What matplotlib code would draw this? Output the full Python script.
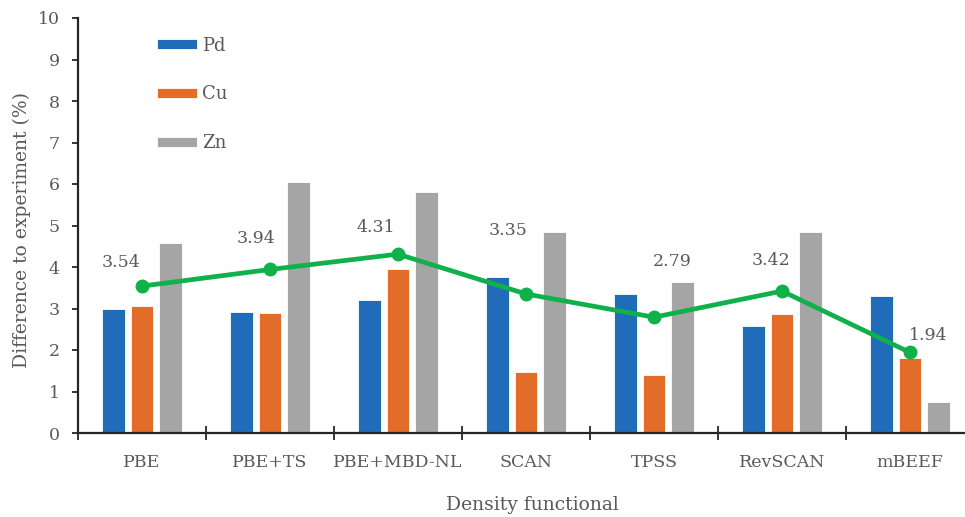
import matplotlib
matplotlib.use("Agg")
import matplotlib.pyplot as plt
import numpy as np

categories = ["PBE", "PBE+TS", "PBE+MBD-NL", "SCAN", "TPSS", "RevSCAN", "mBEEF"]
pd_vals = [3.00, 2.91, 3.20, 3.75, 3.34, 2.57, 3.30]
cu_vals = [3.07, 2.88, 3.96, 1.48, 1.40, 2.87, 1.81]
zn_vals = [4.59, 6.05, 5.81, 4.84, 3.63, 4.84, 0.74]
avg_vals = [3.54, 3.94, 4.31, 3.35, 2.79, 3.42, 1.94]
avg_labels = ["3.54", "3.94", "4.31", "3.35", "2.79", "3.42", "1.94"]
yticks = [0, 1, 2, 3, 4, 5, 6, 7, 8, 9, 10]

# label offsets in points (layout only)
label_offsets = [(-15, 17), (-10, 22), (-16, 19), (-13, 46), (13, 40), (-8, 22), (13, 12)]

plt.rcParams['font.family'] = ['DejaVu Serif']
text_color = "#595959"

fig = plt.figure(figsize=(9.65, 5.17), dpi=100)
ax = fig.add_axes([78/965, 1-433/517, 896/965, 415/517])

x = np.arange(len(categories))
w = 0.178
step = 0.22
c_pd, c_cu, c_zn, c_avg = "#1F6DB9", "#E36C28", "#A5A5A5", "#10B04B"
ax.bar(x - step, pd_vals, w, color=c_pd, label="Pd", edgecolor="white", linewidth=0.6)
ax.bar(x, cu_vals, w, color=c_cu, label="Cu", edgecolor="white", linewidth=0.6)
ax.bar(x + step, zn_vals, w, color=c_zn, label="Zn", edgecolor="white", linewidth=0.6)
ax.plot(x, avg_vals, color=c_avg, lw=3.4, marker="o", ms=9, zorder=5)

for xi, v, s, off in zip(x, avg_vals, avg_labels, label_offsets):
    ax.annotate(s, (xi, v), xytext=off, textcoords="offset points",
                ha="center", va="center", fontsize=12.5, color=text_color)

ax.set_xlim(-0.5, len(categories) - 0.5)
ax.set_ylim(0, 10)
ax.set_yticks(yticks)
ax.set_yticklabels([str(t) for t in yticks])

ax.set_xticks(np.arange(len(categories) + 1) - 0.5)
ax.set_xticklabels([])
ax.set_xticks(x, minor=True)
ax.set_xticklabels(categories, minor=True)
ax.tick_params(axis="x", which="major", direction="inout", length=10, width=1.3, color="#262626")
ax.tick_params(axis="x", which="minor", length=0, pad=15, labelsize=12.5, labelcolor=text_color)
ax.tick_params(axis="y", direction="out", length=4, width=1.3, color="#262626",
               pad=9, labelsize=12.5, labelcolor=text_color)

for s in ["top", "right"]:
    ax.spines[s].set_visible(False)
for s in ["left", "bottom"]:
    ax.spines[s].set_linewidth(1.6)
    ax.spines[s].set_color("#262626")

ax.set_ylabel("Difference to experiment (%)", fontsize=13.5, color=text_color)
ax.yaxis.set_label_coords(-0.052, 0.49)
ax.set_xlabel("Density functional", fontsize=13.5, color=text_color)
ax.xaxis.set_label_coords(0.507, -0.152)

leg = ax.legend(loc="upper left", bbox_to_anchor=(0.088, 0.955), frameon=False,
                fontsize=13, handlelength=2.2, handleheight=0.5, labelspacing=1.7,
                handletextpad=0.3, borderpad=0, borderaxespad=0)
for t in leg.get_texts():
    t.set_color(text_color)

fig.savefig("out.png", dpi=100)
